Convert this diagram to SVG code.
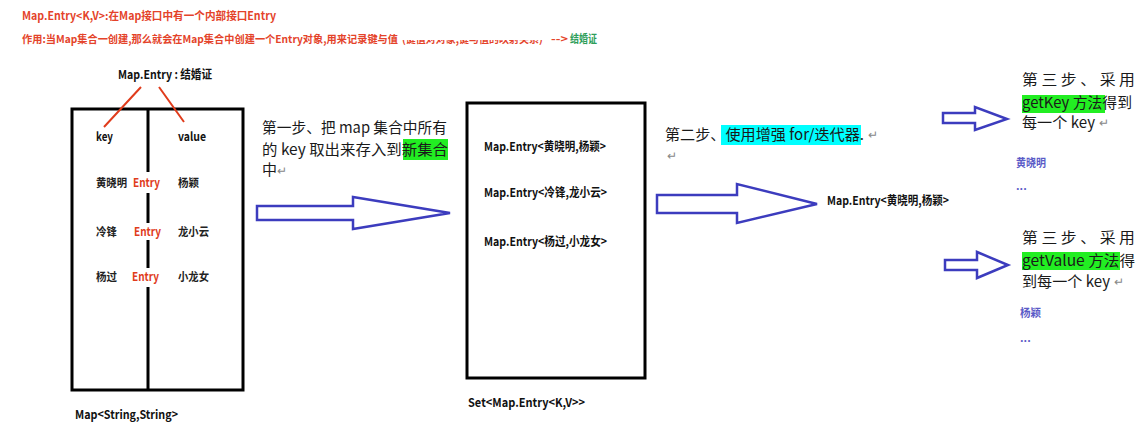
<svg xmlns="http://www.w3.org/2000/svg" width="1142" height="424" viewBox="0 0 1142 424">
<style>
text{font-family:"Noto Sans CJK SC","Liberation Sans",sans-serif;}
.hd{font-size:11px;font-weight:bold;fill:#e4432a;}
.lb{font-size:12px;font-weight:bold;fill:#111;}
.red{font-size:12px;font-weight:bold;fill:#e03c1c;}
.cn{font-size:11.5px;font-weight:bold;fill:#222;}
.st{font-size:15px;fill:#1a1a1a;}
.rt{fill:#888;}
.bl{font-size:11px;font-weight:bold;fill:#5b5bc7;}
.box{fill:none;stroke:#000;stroke-width:3;}
.arr{fill:#fff;stroke:#3c3cbe;stroke-width:2.5;stroke-linejoin:miter;}
.rl{stroke:#e03c1c;stroke-width:2;fill:none;}
</style>
<defs>
<clipPath id="cut"><rect x="400" y="40" width="146" height="10"/></clipPath>
</defs>
<rect width="1142" height="424" fill="#fff"/>

<g id="header">
<text class="hd" x="22" y="19.5" textLength="254" lengthAdjust="spacingAndGlyphs">Map.Entry&lt;K,V&gt;:在Map接口中有一个内部接口Entry</text>
<text class="hd" x="22" y="43" font-size="10.5" style="font-size:10.5px" textLength="376" lengthAdjust="spacingAndGlyphs">作用:当Map集合一创建,那么就会在Map集合中创建一个Entry对象,用来记录键与值</text>
<text class="hd" x="402" y="43" style="font-size:10px" clip-path="url(#cut)">(键值对对象,键与值的映射关系)</text>
<text class="hd" x="551" y="43" textLength="17" lengthAdjust="spacingAndGlyphs">--&gt;</text>
<text class="hd" x="570" y="43" textLength="27" lengthAdjust="spacingAndGlyphs" style="fill:#2e9e5a">结婚证</text>
</g>

<g id="map-box">
<text class="lb" x="118" y="79" textLength="94" lengthAdjust="spacingAndGlyphs">Map.Entry : 结婚证</text>
<rect class="box" x="72" y="109" width="171" height="281"/>
<path class="box" d="M148 109V172M148 193V223M148 240V268M148 287V390"/>
<text class="lb" x="96" y="141" textLength="17" lengthAdjust="spacingAndGlyphs">key</text>
<text class="lb" x="178" y="141" textLength="28" lengthAdjust="spacingAndGlyphs">value</text>
<text class="cn" x="96" y="187" textLength="31" lengthAdjust="spacingAndGlyphs">黄晓明</text>
<text class="red" x="133" y="187" textLength="27" lengthAdjust="spacingAndGlyphs">Entry</text>
<text class="cn" x="178" y="187" textLength="21" lengthAdjust="spacingAndGlyphs">杨颖</text>
<text class="cn" x="96" y="236" textLength="21" lengthAdjust="spacingAndGlyphs">冷锋</text>
<text class="red" x="134" y="236" textLength="27" lengthAdjust="spacingAndGlyphs">Entry</text>
<text class="cn" x="178" y="236" textLength="31" lengthAdjust="spacingAndGlyphs">龙小云</text>
<text class="cn" x="96" y="281" textLength="21" lengthAdjust="spacingAndGlyphs">杨过</text>
<text class="red" x="132" y="281" textLength="27" lengthAdjust="spacingAndGlyphs">Entry</text>
<text class="cn" x="178" y="281" textLength="31" lengthAdjust="spacingAndGlyphs">小龙女</text>
<text class="lb" x="75" y="419" textLength="103" lengthAdjust="spacingAndGlyphs">Map&lt;String,String&gt;</text>
</g>

<g id="set-box">
<rect class="box" x="467" y="103" width="178" height="275"/>
<text class="lb" x="484" y="151" textLength="122" lengthAdjust="spacingAndGlyphs">Map.Entry&lt;黄晓明,杨颖&gt;</text>
<text class="lb" x="484" y="197" textLength="123" lengthAdjust="spacingAndGlyphs">Map.Entry&lt;冷锋,龙小云&gt;</text>
<text class="lb" x="484" y="246" textLength="123" lengthAdjust="spacingAndGlyphs">Map.Entry&lt;杨过,小龙女&gt;</text>
<text class="lb" x="468" y="407" textLength="117" lengthAdjust="spacingAndGlyphs">Set&lt;Map.Entry&lt;K,V&gt;&gt;</text>
</g>

<g id="step1">
<rect x="403" y="139" width="45" height="21" fill="#22ee22"/>
<text class="st" x="262" y="133" textLength="185" lengthAdjust="spacingAndGlyphs">第一步、把 map 集合中所有</text>
<text class="st" x="262" y="155" textLength="186" lengthAdjust="spacingAndGlyphs">的 key 取出来存入到新集合</text>
<text class="st" x="262" y="175">中<tspan class="rt" font-size="12">↵</tspan></text>
</g>

<g id="step2">
<rect x="721" y="125" width="140" height="20" fill="#00ffff"/>
<text class="st" x="665" y="140" textLength="199" lengthAdjust="spacingAndGlyphs">第二步、使用增强 for/迭代器.</text>
<text class="rt" x="868" y="139" font-size="12">↵</text>
<text class="rt" x="667" y="160" font-size="12">↵</text>
<text class="lb" x="827" y="205" textLength="122" lengthAdjust="spacingAndGlyphs">Map.Entry&lt;黄晓明,杨颖&gt;</text>
</g>

<g id="step3-key">
<rect x="1022" y="95" width="83" height="18" fill="#22ee22"/>
<text class="st" x="1022" y="85" textLength="113" lengthAdjust="spacingAndGlyphs">第 三 步 、 采 用</text>
<text class="st" x="1022" y="108" textLength="110" lengthAdjust="spacingAndGlyphs">getKey 方法得到</text>
<text class="st" x="1022" y="128" textLength="73" lengthAdjust="spacingAndGlyphs">每一个 key</text>
<text class="rt" x="1099" y="127" font-size="12">↵</text>
<text class="bl" x="1016" y="167" textLength="30" lengthAdjust="spacingAndGlyphs">黄晓明</text>
<text class="bl" x="1016" y="190">...</text>
</g>

<g id="step3-value">
<rect x="1022" y="252" width="98" height="18" fill="#22ee22"/>
<text class="st" x="1022" y="243" textLength="113" lengthAdjust="spacingAndGlyphs">第 三 步 、 采 用</text>
<text class="st" x="1022" y="266" textLength="113" lengthAdjust="spacingAndGlyphs">getValue 方法得</text>
<text class="st" x="1022" y="287" textLength="88" lengthAdjust="spacingAndGlyphs">到每一个 key</text>
<text class="rt" x="1114" y="286" font-size="12">↵</text>
<text class="bl" x="1020" y="317" textLength="21" lengthAdjust="spacingAndGlyphs">杨颖</text>
<text class="bl" x="1020" y="342">...</text>
</g>

<g id="connectors">
<path class="rl" d="M141 87L104 127M159 87L184 122"/>
<polygon class="arr" points="257,206 353,206 353,197 450,213 353,229 353,220 257,220"/>
<polygon class="arr" points="657,195 737,195 737,184 817,204 737,223 737,213 657,213"/>
<polygon class="arr" points="943,113 975,113 975,107 1007,119 975,130 975,123 943,123"/>
<polygon class="arr" points="945,260 977,260 977,252 1008,265 977,278 977,270 945,270"/>
</g>
</svg>
